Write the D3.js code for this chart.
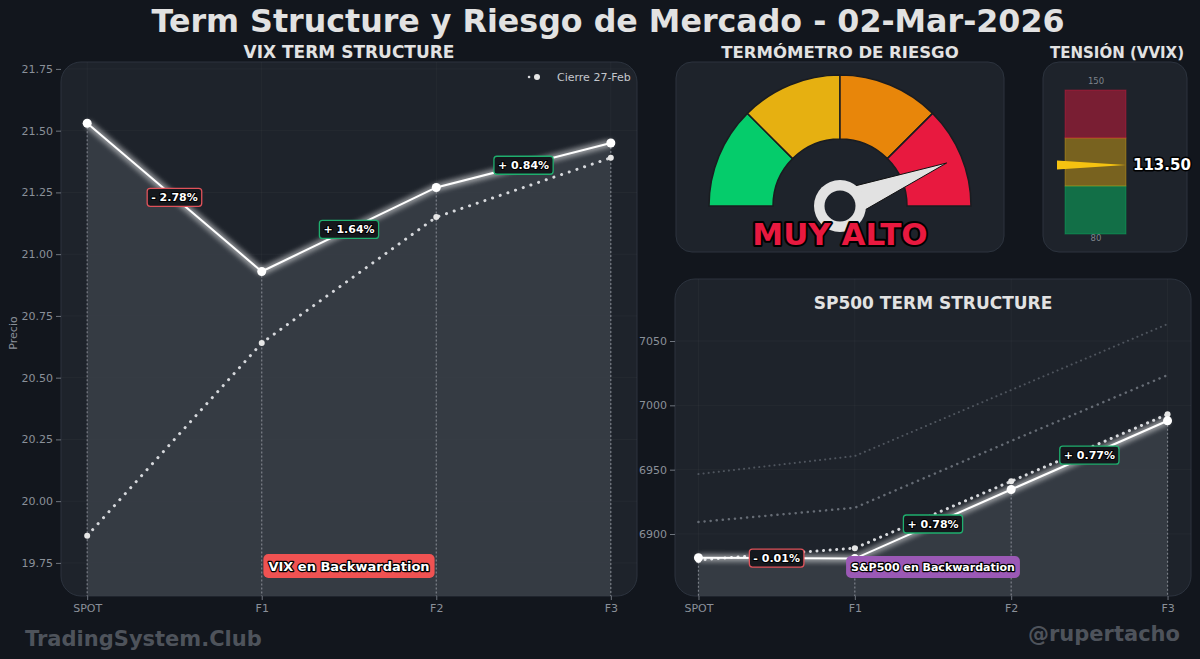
<!DOCTYPE html>
<html><head><meta charset="utf-8">
<script src="https://cdn.jsdelivr.net/npm/d3@7"></script>
<style>
body{margin:0;background:#12161d;}
svg{display:block;font-family:'DejaVu Sans',sans-serif;}
</style>
</head><body><svg id="c" width="1200" height="659"></svg>
<script>
// ---------- DATA ----------
const categories = ["SPOT", "F1", "F2", "F3"];
const vixCurrent = [21.53, 20.93, 21.27, 21.45];
const vixPrevious = [19.86, 20.64, 21.15, 21.39];
const vixChangeLabels = ["- 2.78%", "+ 1.64%", "+ 0.84%"];
const vixTicks = [19.75, 20.00, 20.25, 20.50, 20.75, 21.00, 21.25, 21.50, 21.75];
const vixDomain = [19.616, 21.778];

const spxCurrent = [6881.6, 6880.9, 6934.6, 6988.0];
const spxPrevious = [6879.8, 6889.0, 6941.0, 6993.0];
const spxBandMid = [6909.3, 6920.4, 6972.3, 7023.5];
const spxBandHigh = [6946.6, 6960.6, 7011.9, 7063.2];
const spxChangeLabels = ["- 0.01%", "+ 0.78%", "+ 0.77%"];
const spxTicks = [6900, 6950, 7000, 7050];
const spxDomain = [6851.8, 7098.2];

const gaugeColors = ["#05cc6b", "#e6b011", "#e8860a", "#e8193f"];
const gaugeValue = 87.8;   // 0..100 risk score
const gaugeLabel = "MUY ALTO";

const vvixValue = 113.50;
const vvixRange = [80, 150];
const vvixZones = [[80, 103.33, "#05cc6b"], [103.33, 126.67, "#e6b011"], [126.67, 150, "#e8193f"]];

const legendLabel = "Cierre 27-Feb";
const vixStatus = "VIX en Backwardation";
const spxStatus = "S&P500 en Backwardation";

// ---------- STYLE ----------
const BG = "#12161d", PANEL = "#1e232b", PSTROKE = "#2c333e", AXIS = "#8a9099";
const svg = d3.select("#c");
svg.append("rect").attr("width", 1200).attr("height", 659).attr("fill", BG);

const defs = svg.append("defs");
const glow = defs.append("filter").attr("id", "glow").attr("x", "-20%").attr("y", "-20%").attr("width", "140%").attr("height", "140%");
glow.append("feGaussianBlur").attr("stdDeviation", 3).attr("result", "b");
const fm = glow.append("feMerge");
fm.append("feMergeNode").attr("in", "b");
fm.append("feMergeNode").attr("in", "b");
fm.append("feMergeNode").attr("in", "SourceGraphic");

function outlinedText(g, x, y, txt, size, fill, anchor, sw) {
  return g.append("text").attr("x", x).attr("y", y).text(txt)
    .attr("font-size", size).attr("font-weight", "bold").attr("fill", fill)
    .attr("text-anchor", anchor || "middle").attr("dominant-baseline", "central")
    .attr("stroke", "#000").attr("stroke-width", sw || 2.5).attr("paint-order", "stroke")
    .attr("stroke-linejoin", "round");
}

// ---------- TITLES ----------
svg.append("text").attr("x", 608).attr("y", 32).attr("text-anchor", "middle")
  .attr("font-size", 31.7).attr("font-weight", "bold").attr("fill", "#e2e2e2")
  .text("Term Structure y Riesgo de Mercado - 02-Mar-2026");
[["VIX TERM STRUCTURE", 349, 17], ["TERMÓMETRO DE RIESGO", 840, 16.5], ["TENSIÓN (VVIX)", 1117, 15]].forEach(([t, x, s]) => {
  svg.append("text").attr("x", x).attr("y", 58).attr("text-anchor", "middle")
    .attr("font-size", s).attr("font-weight", "bold").attr("fill", "#e2e2e2").text(t);
});

// ---------- TERM STRUCTURE CHART ----------
function termChart(opt) {
  const g = svg.append("g");
  const {x0, x1, y0, y1} = opt;
  const x = d3.scalePoint().domain(categories).range([x0, x1]).padding(0.15);
  const y = d3.scaleLinear().domain(opt.domain).range([y1, y0]);
  const clipId = "clip" + opt.id;
  defs.append("clipPath").attr("id", clipId).append("rect")
    .attr("x", x0).attr("y", y0).attr("width", x1 - x0).attr("height", y1 - y0).attr("rx", 20);
  g.append("rect").attr("x", x0).attr("y", y0).attr("width", x1 - x0).attr("height", y1 - y0)
    .attr("rx", 20).attr("fill", PANEL).attr("stroke", PSTROKE).attr("stroke-width", 1);
  const inner = g.append("g").attr("clip-path", `url(#${clipId})`);
  // grid
  inner.selectAll(".hg").data(opt.ticks).join("line")
    .attr("x1", x0).attr("x2", x1).attr("y1", d => y(d)).attr("y2", d => y(d))
    .attr("stroke", "#ffffff").attr("stroke-opacity", 0.03);
  inner.selectAll(".vg").data(categories).join("line")
    .attr("x1", d => x(d)).attr("x2", d => x(d)).attr("y1", y0).attr("y2", y1)
    .attr("stroke", "#ffffff").attr("stroke-opacity", 0.03);
  // extra bands
  (opt.bands || []).forEach(b => {
    inner.append("path").datum(b.data)
      .attr("d", d3.line().x((d, i) => x(categories[i])).y(d => y(d)))
      .attr("fill", "none").attr("stroke", b.color).attr("stroke-width", b.w)
      .attr("stroke-dasharray", b.dash).attr("stroke-linecap", "round");
  });
  // area
  const area = d3.area().x((d, i) => x(categories[i])).y0(y1).y1(d => y(d));
  inner.append("path").datum(opt.current).attr("d", area).attr("fill", "#3a3f48").attr("fill-opacity", 0.85);
  // drop lines
  inner.selectAll(".drop").data(opt.current).join("line")
    .attr("x1", (d, i) => x(categories[i])).attr("x2", (d, i) => x(categories[i]))
    .attr("y1", d => y(d)).attr("y2", y1)
    .attr("stroke", "#b8bcc4").attr("stroke-opacity", 0.55).attr("stroke-width", 1.2)
    .attr("stroke-dasharray", "2,2");
  // previous dotted line
  const line = d3.line().x((d, i) => x(categories[i])).y(d => y(d));
  inner.append("path").datum(opt.previous).attr("d", line)
    .attr("fill", "none").attr("stroke", "#d6d8dc").attr("stroke-width", 3)
    .attr("stroke-dasharray", opt.prevDash).attr("stroke-linecap", "round");
  inner.selectAll(".pp").data(opt.previous).join("circle")
    .attr("cx", (d, i) => x(categories[i])).attr("cy", d => y(d)).attr("r", 3)
    .attr("fill", "#e6e6e6");
  // current line with glow
  inner.append("path").datum(opt.current).attr("d", line)
    .attr("fill", "none").attr("stroke", "#ffffff").attr("stroke-width", 2)
    .attr("filter", "url(#glow)");
  inner.selectAll(".cp").data(opt.current).join("circle")
    .attr("cx", (d, i) => x(categories[i])).attr("cy", d => y(d)).attr("r", 4.5)
    .attr("fill", "#ffffff");
  // change labels
  opt.labels.forEach((t, i) => {
    const mx = (x(categories[i]) + x(categories[i + 1])) / 2;
    const my = (y(opt.current[i]) + y(opt.current[i + 1])) / 2;
    const col = t.trim().startsWith("-") ? "#e0525a" : "#1fae6e";
    const lg = g.append("g");
    const r = lg.append("rect");
    const tx = outlinedText(lg, mx, my + 0.5, t, 11, "#ffffff", "middle", 2.2);
    const w = tx.node().getComputedTextLength() + 8;
    r.attr("x", mx - w / 2).attr("y", my - 9).attr("width", w).attr("height", 18).attr("rx", 3)
      .attr("fill", "#15181d").attr("stroke", col).attr("stroke-width", 1.3);
  });
  // status box
  const sg = g.append("g");
  const sx = (x(categories[1]) + x(categories[2])) / 2;
  const sr = sg.append("rect");
  const st = outlinedText(sg, sx, opt.statusY, opt.status, opt.statusSize, "#ffffff", "middle", 2.5);
  const sw = st.node().getComputedTextLength() + 10;
  sr.attr("x", sx - sw / 2).attr("y", opt.statusY - opt.statusH / 2).attr("width", sw).attr("height", opt.statusH)
    .attr("rx", 5).attr("fill", opt.statusColor);
  // axes
  const ya = g.append("g").attr("transform", `translate(${x0},0)`)
    .call(d3.axisLeft(y).tickValues(opt.ticks).tickFormat(opt.fmt).tickSize(5).tickPadding(3));
  const xa = g.append("g").attr("transform", `translate(0,${y1})`)
    .call(d3.axisBottom(x).tickSize(4).tickPadding(4));
  [ya, xa].forEach(a => {
    a.select(".domain").remove();
    a.selectAll("line").attr("stroke", "#6f757e");
    a.selectAll("text").attr("fill", AXIS).attr("font-size", 11).attr("font-family", "'DejaVu Sans',sans-serif");
  });
  return {g, x, y};
}

const vix = termChart({
  id: "v", x0: 61, x1: 637, y0: 62, y1: 596, domain: vixDomain, ticks: vixTicks,
  fmt: d3.format(".2f"), current: vixCurrent, previous: vixPrevious, labels: vixChangeLabels,
  prevDash: "0.1,8",
  status: vixStatus, statusColor: "#f05252", statusY: 566, statusH: 24, statusSize: 13
});
// y label
svg.append("text").attr("transform", "translate(17,333) rotate(-90)").attr("text-anchor", "middle")
  .attr("font-size", 11).attr("fill", AXIS).text("Precio");
// legend
const lgd = svg.append("g");
lgd.append("line").attr("x1", 529).attr("x2", 545).attr("y1", 77).attr("y2", 77)
  .attr("stroke", "#d6d8dc").attr("stroke-width", 2.5).attr("stroke-dasharray", "0.1,8").attr("stroke-linecap", "round");
lgd.append("circle").attr("cx", 537).attr("cy", 77).attr("r", 3).attr("fill", "#e6e6e6");
lgd.append("text").attr("x", 557).attr("y", 77).attr("dominant-baseline", "central")
  .attr("font-size", 11).attr("fill", "#c4c7cc").text(legendLabel);

const spx = termChart({
  id: "s", x0: 675, x1: 1191, y0: 279, y1: 596, domain: spxDomain, ticks: spxTicks,
  fmt: d3.format("d"), current: spxCurrent, previous: spxPrevious, labels: spxChangeLabels,
  prevDash: "0.1,6.5",
  status: spxStatus, statusColor: "#9b59b6", statusY: 567, statusH: 22, statusSize: 11,
  bands: [
    {data: spxBandHigh, color: "#4f555e", w: 2, dash: "0.1,5"},
    {data: spxBandMid, color: "#666c75", w: 2.5, dash: "0.1,6"}
  ]
});
svg.append("text").attr("x", 933).attr("y", 309).attr("text-anchor", "middle")
  .attr("font-size", 17).attr("font-weight", "bold").attr("fill", "#e2e2e2").text("SP500 TERM STRUCTURE");

// ---------- GAUGE ----------
const gp = svg.append("g");
gp.append("rect").attr("x", 676).attr("y", 62).attr("width", 328).attr("height", 190).attr("rx", 16)
  .attr("fill", PANEL).attr("stroke", PSTROKE);
const gc = {x: 840, y: 206};
const gScale = d3.scaleLinear().domain([0, 100]).range([-Math.PI / 2, Math.PI / 2]);
const arc = d3.arc().innerRadius(67).outerRadius(131);
const gg = gp.append("g").attr("transform", `translate(${gc.x},${gc.y})`);
gaugeColors.forEach((c, i) => {
  gg.append("path").attr("d", arc({startAngle: gScale(i * 25), endAngle: gScale((i + 1) * 25)}))
    .attr("fill", c).attr("stroke", "#1a1c20").attr("stroke-width", 1.5);
});
// needle
const ang = gScale(gaugeValue); // 0 = up, clockwise
const dir = [Math.sin(ang), -Math.cos(ang)];
const perp = [-dir[1], dir[0]];
const tipR = 115, hw = 16;
const pts = [[dir[0] * tipR, dir[1] * tipR], [perp[0] * hw, perp[1] * hw], [-perp[0] * hw, -perp[1] * hw]];
gg.append("path").attr("d", d3.line()(pts) + "Z").attr("fill", "#e2e2e2").attr("stroke", "#111").attr("stroke-width", 1);
gg.append("circle").attr("r", 26).attr("fill", "#e2e2e2");
gg.append("circle").attr("r", 15.5).attr("fill", PANEL);
outlinedText(gp, 840, 234, gaugeLabel, 31, "#e8193f", "middle", 4);

// ---------- VVIX ----------
const vp = svg.append("g");
vp.append("rect").attr("x", 1043).attr("y", 62).attr("width", 144).attr("height", 190).attr("rx", 16)
  .attr("fill", PANEL).attr("stroke", PSTROKE);
const vy = d3.scaleLinear().domain(vvixRange).range([234, 90]);
vvixZones.forEach(([a, b, c]) => {
  vp.append("rect").attr("x", 1065).attr("width", 61).attr("y", vy(b)).attr("height", vy(a) - vy(b))
    .attr("fill", c).attr("fill-opacity", 0.45).attr("stroke", c).attr("stroke-opacity", 0.35).attr("stroke-width", 1);
});
vp.append("text").attr("x", 1096).attr("y", 84).attr("text-anchor", "middle").attr("font-size", 8.5)
  .attr("fill", "#7d838c").text(vvixRange[1]);
vp.append("text").attr("x", 1096).attr("y", 241).attr("text-anchor", "middle").attr("font-size", 8.5)
  .attr("fill", "#7d838c").text(vvixRange[0]);
const py = vy(vvixValue);
vp.append("path").attr("d", d3.line()([[1057, py - 4.5], [1126, py], [1057, py + 4.5]]) + "Z")
  .attr("fill", "#f5c211");
outlinedText(vp, 1133, py, d3.format(".2f")(vvixValue), 15, "#ffffff", "start", 3);

// ---------- FOOTER ----------
svg.append("text").attr("x", 25).attr("y", 646).attr("font-size", 21).attr("font-weight", "bold")
  .attr("fill", "#4e535b").text("TradingSystem.Club");
svg.append("text").attr("x", 1180).attr("y", 641).attr("text-anchor", "end").attr("font-size", 21).attr("font-weight", "bold")
  .attr("fill", "#4e535b").text("@rupertacho");
</script>
</body></html>
